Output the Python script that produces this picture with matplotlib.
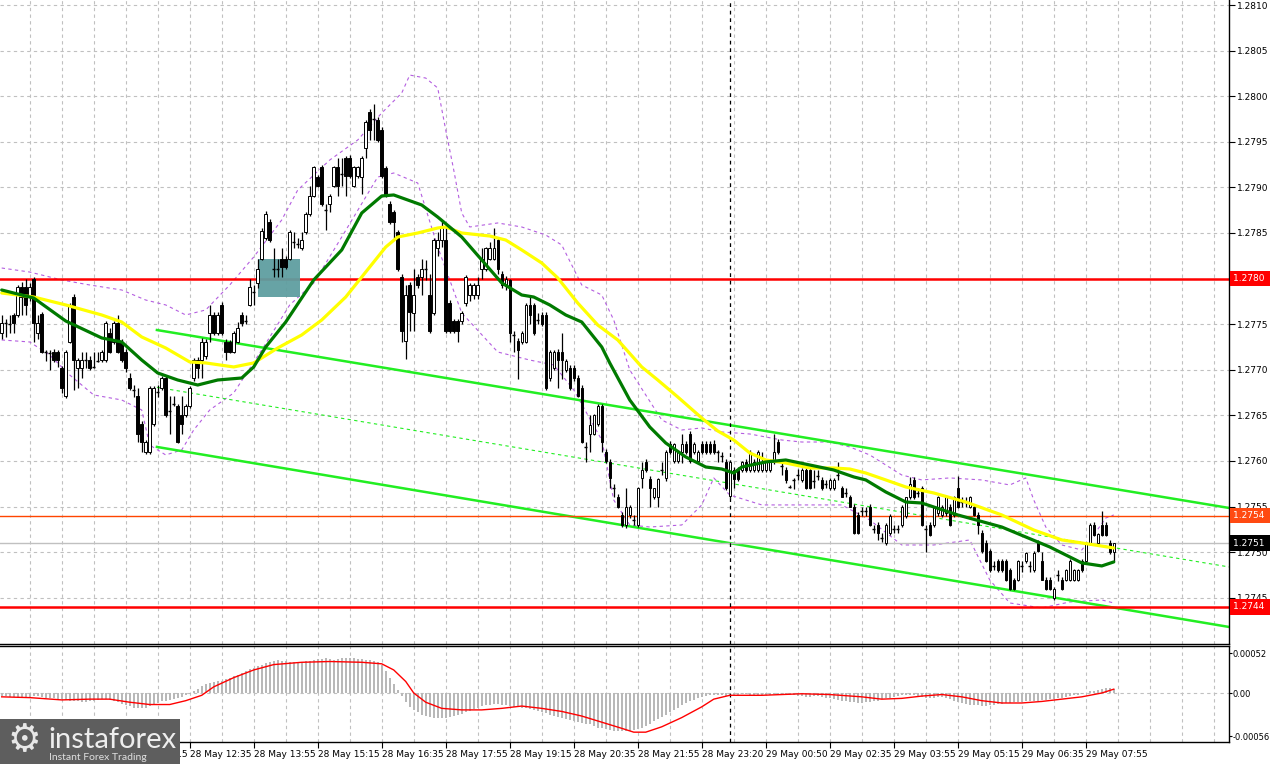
import matplotlib
matplotlib.use("Agg")
import matplotlib.pyplot as plt
from matplotlib.patches import Rectangle

# ---- data (prices in pips above 1.2700, M5 bars) ----
BASE = 1.2700
PIP = 0.0001

opens = [74.0, 75.1, 75.0, 76.0, 76.0, 79.1, 79.1, 78.0, 80.0, 74.0,
         76.1, 72.0, 71.8, 72.0, 72.0, 70.2, 67.1, 73.1, 78.0, 70.2,
         70.2, 71.1, 71.1, 70.3, 71.0, 71.1, 71.1, 74.0, 73.1, 75.1,
         73.1, 72.0, 69.1, 67.8, 67.1, 64.1, 61.0, 61.0, 64.1, 67.6,
         68.0, 69.1, 65.5, 66.2, 66.0, 65.0, 65.0, 66.0, 69.1, 71.1,
         71.1, 71.5, 74.0, 76.0, 74.0, 77.1, 73.1, 73.1, 72.0, 73.1,
         76.0, 75.4, 77.1, 78.5, 79.5, 82.2, 84.4, 86.2, 81.0, 81.0,
         82.2, 82.2, 82.2, 84.0, 83.8, 83.3, 85.1, 87.1, 89.1, 91.1,
         92.2, 87.5, 88.2, 90.2, 92.2, 91.5, 93.2, 93.2, 90.2, 91.3,
         91.1, 94.3, 98.3, 97.5, 97.4, 96.3, 92.1, 88.2, 87.3, 85.1,
         80.2, 73.2, 79.3, 76.2, 80.2, 80.2, 81.0, 78.2, 76.2, 83.3,
         84.2, 84.2, 77.3, 75.3, 75.3, 75.3, 77.3, 78.2, 78.2, 78.2,
         81.1, 81.1, 82.2, 82.2, 84.2, 80.5, 79.2, 79.8, 73.8, 73.2,
         73.1, 73.1, 77.1, 77.1, 75.5, 76.0, 76.0, 69.1, 70.2, 72.0,
         72.0, 70.0, 70.2, 70.2, 69.1, 68.0, 61.5, 63.0, 63.0, 64.1,
         66.0, 61.0, 59.9, 57.0, 56.1, 54.1, 53.0, 54.1, 53.5, 53.0,
         58.1, 59.9, 58.0, 56.1, 56.1, 59.0, 58.1, 61.9, 60.0, 60.0,
         61.0, 61.9, 63.0, 61.0, 60.0, 61.9, 61.9, 61.9, 61.9, 61.0,
         60.5, 59.9, 56.2, 59.0, 59.0, 59.0, 59.9, 59.0, 59.0, 59.0,
         59.0, 59.0, 59.0, 59.9, 62.1, 59.5, 59.0, 57.2, 57.9, 58.5,
         57.9, 59.0, 59.0, 57.8, 58.3, 57.9, 57.5, 57.0, 57.0, 58.5,
         57.0, 56.5, 56.0, 55.0, 54.1, 54.5, 54.5, 55.0, 52.5, 53.0,
         51.5, 51.0, 52.1, 52.5, 52.5, 53.0, 54.0, 56.0, 57.9, 56.5,
         57.0, 52.5, 53.0, 53.0, 54.3, 54.1, 54.3, 55.0, 54.1, 57.0,
         55.5, 55.5, 55.0, 55.0, 54.1, 52.1, 51.0, 50.1, 48.5, 49.0,
         49.0, 49.0, 48.0, 46.9, 47.0, 48.5, 49.0, 48.5, 48.0, 51.0,
         49.0, 47.0, 47.0, 45.0, 47.5, 47.0, 47.0, 47.0, 47.0, 47.0,
         49.0, 49.0, 51.0, 53.0, 51.0, 53.0, 53.0, 51.0, 50.0]
highs = [76.0, 75.6, 76.0, 76.2, 79.3, 79.6, 80.0, 79.5, 80.2, 76.0,
         76.3, 72.2, 72.2, 72.3, 72.2, 70.4, 72.2, 77.3, 78.3, 71.3,
         72.0, 72.0, 71.5, 72.0, 72.0, 72.2, 75.3, 74.6, 75.3, 76.0,
         73.4, 72.3, 69.6, 68.3, 68.0, 64.4, 62.3, 68.2, 68.2, 68.3,
         69.3, 69.4, 67.1, 67.1, 66.3, 67.1, 66.2, 68.2, 71.3, 71.4,
         73.5, 73.4, 77.1, 76.3, 76.3, 77.4, 73.4, 73.3, 74.2, 75.2,
         76.3, 76.0, 80.0, 79.3, 82.2, 85.5, 87.4, 86.5, 83.3, 82.2,
         83.3, 82.5, 85.3, 85.1, 84.4, 85.1, 87.3, 90.2, 92.4, 91.4,
         92.5, 88.2, 89.3, 92.4, 93.2, 93.2, 93.4, 93.5, 92.4, 92.4,
         93.4, 97.4, 98.6, 99.2, 97.7, 96.6, 92.4, 88.5, 87.5, 85.3,
         80.5, 79.3, 79.6, 81.1, 80.5, 82.2, 82.0, 80.5, 84.4, 85.1,
         86.3, 85.8, 77.6, 75.6, 75.6, 76.4, 80.4, 79.5, 79.5, 80.2,
         83.3, 83.5, 84.0, 85.5, 84.6, 80.8, 80.3, 80.0, 74.2, 73.5,
         74.2, 77.3, 78.0, 77.3, 76.2, 76.3, 76.3, 72.2, 72.2, 72.3,
         74.0, 71.2, 70.5, 70.5, 69.4, 68.3, 62.1, 65.0, 65.2, 66.2,
         66.3, 61.3, 60.2, 57.5, 56.4, 54.4, 57.0, 55.2, 54.1, 57.2,
         59.9, 60.2, 58.3, 57.0, 58.1, 59.9, 61.2, 62.2, 62.0, 61.2,
         63.0, 62.2, 63.3, 62.1, 61.2, 62.2, 62.2, 62.2, 62.3, 61.2,
         61.0, 60.2, 60.1, 59.3, 59.3, 60.0, 60.2, 61.2, 60.2, 61.2,
         61.0, 60.2, 60.2, 63.0, 62.4, 60.0, 59.3, 57.4, 58.1, 59.1,
         59.2, 59.3, 59.3, 59.0, 59.0, 58.2, 57.9, 58.1, 58.1, 59.9,
         57.3, 57.0, 56.3, 55.3, 54.4, 55.0, 55.0, 55.3, 53.0, 53.3,
         52.1, 53.2, 54.2, 53.0, 53.0, 55.2, 56.1, 58.2, 58.2, 57.0,
         57.3, 53.0, 53.3, 55.1, 56.2, 55.2, 56.2, 55.3, 56.2, 58.3,
         56.1, 56.1, 56.2, 55.3, 54.4, 52.4, 51.3, 50.4, 49.0, 49.3,
         49.3, 49.3, 48.3, 47.2, 49.1, 49.0, 50.0, 49.0, 50.1, 51.3,
         50.0, 47.3, 47.3, 46.2, 48.0, 47.3, 48.2, 49.2, 48.2, 48.2,
         49.3, 51.1, 53.2, 53.3, 52.1, 54.5, 53.3, 51.3, 51.0]
lows = [73.4, 73.6, 74.0, 74.0, 75.8, 76.0, 76.0, 77.5, 73.1, 73.4,
        71.8, 71.0, 70.0, 70.8, 70.3, 67.4, 66.9, 72.9, 67.8, 68.0,
        69.1, 70.2, 70.0, 70.2, 70.8, 70.8, 70.8, 71.8, 72.8, 71.8,
        70.8, 69.8, 67.8, 67.0, 62.1, 61.0, 60.8, 60.8, 63.8, 67.0,
        67.8, 64.8, 63.0, 66.0, 62.0, 63.0, 64.8, 65.8, 68.8, 69.1,
        69.1, 71.2, 73.1, 73.8, 73.8, 73.8, 71.1, 71.8, 71.8, 72.9,
        74.8, 75.0, 77.0, 77.1, 79.0, 82.0, 84.2, 84.0, 80.2, 80.2,
        80.2, 81.0, 82.0, 83.3, 83.3, 83.1, 84.9, 86.9, 88.9, 90.0,
        88.0, 85.3, 87.3, 90.0, 89.1, 90.2, 89.1, 91.0, 90.0, 91.0,
        89.3, 93.2, 95.2, 95.2, 95.0, 91.0, 88.9, 86.0, 84.4, 80.8,
        73.1, 71.2, 74.2, 74.2, 79.0, 78.2, 79.8, 74.0, 76.0, 82.5,
        83.5, 74.0, 74.0, 74.0, 73.1, 75.0, 77.0, 77.5, 77.8, 77.8,
        80.0, 80.8, 82.0, 82.0, 80.5, 79.0, 78.8, 73.0, 72.0, 69.0,
        72.8, 72.9, 75.0, 73.8, 75.0, 74.8, 67.8, 68.8, 70.0, 68.0,
        69.0, 69.8, 67.8, 68.8, 67.0, 62.0, 59.9, 61.0, 62.8, 63.8,
        61.0, 59.8, 57.0, 56.1, 54.8, 52.8, 52.6, 53.8, 53.0, 52.8,
        57.0, 58.8, 55.0, 55.8, 55.0, 58.5, 57.8, 60.8, 59.8, 59.8,
        59.8, 60.8, 59.8, 60.8, 59.8, 60.8, 60.8, 60.8, 60.8, 59.9,
        59.9, 56.8, 55.9, 57.0, 57.8, 58.8, 58.8, 58.8, 58.8, 58.8,
        58.8, 58.8, 58.8, 59.7, 60.8, 58.5, 57.6, 57.0, 56.9, 57.9,
        57.7, 56.9, 56.9, 57.0, 57.9, 56.8, 57.0, 56.8, 56.8, 57.9,
        56.0, 56.0, 55.0, 52.0, 52.0, 54.0, 54.0, 52.9, 52.1, 51.3,
        51.1, 50.8, 51.9, 52.1, 52.1, 52.8, 53.8, 55.8, 55.8, 56.0,
        52.9, 50.0, 51.8, 52.8, 54.0, 53.9, 54.0, 52.9, 53.9, 54.8,
        55.0, 55.0, 54.8, 54.0, 52.0, 49.9, 48.9, 47.8, 48.0, 47.8,
        47.8, 46.8, 45.8, 45.8, 46.8, 47.8, 48.8, 47.8, 47.8, 50.0,
        46.9, 45.8, 45.8, 44.8, 46.8, 45.8, 46.8, 46.8, 46.8, 46.8,
        47.8, 48.8, 50.8, 51.8, 50.8, 51.8, 51.8, 49.8, 49.0]
closes = [75.1, 75.0, 75.2, 75.1, 79.1, 78.0, 77.1, 79.1, 75.1, 75.1,
          72.0, 71.8, 71.9, 71.1, 71.1, 68.0, 72.0, 77.1, 71.1, 71.1,
          71.1, 71.2, 70.2, 70.4, 71.1, 72.0, 75.1, 72.0, 75.1, 72.0,
          71.1, 70.2, 68.0, 67.6, 63.0, 62.1, 62.1, 68.0, 68.0, 67.8,
          69.1, 65.0, 65.6, 66.3, 62.1, 64.1, 66.0, 68.0, 71.1, 70.2,
          73.1, 73.1, 76.0, 74.0, 76.0, 74.0, 72.0, 72.0, 74.0, 74.6,
          75.1, 75.5, 79.1, 78.6, 81.1, 85.2, 87.1, 84.2, 81.1, 81.2,
          81.3, 81.3, 85.1, 84.1, 83.9, 84.2, 87.1, 89.1, 92.2, 90.2,
          88.2, 87.6, 89.1, 92.2, 90.2, 91.6, 91.3, 91.3, 92.2, 92.2,
          93.2, 97.2, 96.3, 97.6, 95.2, 91.2, 89.1, 86.2, 86.2, 81.1,
          74.2, 78.2, 76.3, 78.2, 79.3, 81.1, 80.8, 74.2, 84.2, 84.2,
          85.5, 74.2, 74.2, 74.2, 74.2, 76.2, 80.2, 79.3, 79.3, 79.3,
          82.2, 83.3, 83.3, 83.3, 81.0, 79.3, 80.0, 74.0, 73.6, 72.2,
          74.0, 77.1, 76.0, 74.0, 75.6, 75.0, 68.0, 72.0, 72.0, 71.1,
          71.1, 71.0, 68.0, 69.1, 67.1, 62.1, 61.4, 64.0, 65.0, 66.0,
          62.1, 60.0, 58.1, 56.9, 55.0, 53.0, 55.0, 55.0, 53.6, 57.0,
          59.0, 59.0, 57.0, 57.0, 58.0, 59.1, 61.0, 61.0, 61.9, 61.0,
          61.9, 61.0, 60.0, 61.9, 61.0, 61.0, 61.0, 61.0, 61.0, 60.8,
          60.6, 57.0, 59.9, 58.0, 58.0, 59.9, 59.0, 61.0, 59.9, 61.0,
          59.9, 59.9, 59.9, 61.0, 61.0, 59.3, 57.9, 57.1, 57.8, 58.6,
          59.0, 57.0, 57.0, 57.9, 58.4, 57.0, 57.6, 57.9, 57.9, 58.6,
          56.1, 56.6, 55.0, 52.1, 52.1, 54.6, 54.4, 53.0, 52.6, 52.1,
          51.6, 53.0, 54.0, 52.6, 52.6, 55.0, 56.0, 57.5, 56.0, 56.6,
          53.0, 52.4, 51.9, 55.0, 56.1, 55.0, 56.1, 53.0, 56.1, 55.0,
          55.6, 55.4, 56.1, 54.1, 53.0, 50.1, 49.0, 48.0, 48.6, 48.0,
          48.0, 47.0, 46.0, 46.0, 49.0, 48.6, 49.9, 48.4, 49.9, 50.1,
          47.0, 46.0, 46.0, 46.0, 47.4, 46.0, 48.0, 49.0, 48.0, 48.0,
          48.0, 51.0, 53.0, 51.9, 52.0, 51.9, 51.9, 50.0, 51.0]

# moving averages (bar index, pips)
ma30_bars = [0, 8, 16, 25, 30, 35, 39, 44, 49, 54, 60, 63, 66, 71, 78, 85, 90, 95,
             98, 105, 109, 115, 120, 125, 130, 133, 137, 141, 145, 150, 152, 157,
             162, 166, 171, 176, 180, 183, 185, 191, 196, 202, 208, 213, 216, 221,
             226, 230, 239, 250, 262, 270, 275, 278]
ma30_vals = [78.75, 77.87, 75.35, 73.49, 73.05, 71.07, 69.65, 68.88, 68.33, 68.88,
             69.10, 70.31, 72.50, 75.24, 79.85, 83.14, 87.19, 89.06, 89.17, 88.07,
             86.75, 84.56, 82.04, 79.52, 78.20, 77.98, 77.11, 76.01, 75.24, 72.50,
             70.75, 66.69, 63.73, 61.97, 60.44, 59.34, 59.12, 58.68, 59.34, 59.89,
             60.11, 59.56, 59.01, 58.25, 57.92, 56.60, 55.50, 55.39, 54.08, 52.76,
             50.57, 48.82, 48.49, 48.93]
ma50_bars = [0, 8, 16, 25, 30, 35, 41, 47, 51, 58, 63, 69, 75, 80, 86, 92, 96, 99,
             104, 109, 111, 115, 122, 126, 130, 135, 139, 144, 149, 154, 160, 164,
             169, 175, 179, 183, 187, 191, 196, 202, 208, 212, 216, 221, 226, 233,
             241, 250, 258, 265, 270, 278]
ma50_vals = [78.42, 77.98, 77.11, 76.01, 75.24, 73.60, 72.39, 70.86, 70.75, 70.31,
             70.75, 72.39, 73.82, 75.46, 77.98, 81.27, 83.46, 84.56, 85.00, 85.55,
             85.66, 85.00, 84.67, 84.23, 83.14, 81.71, 80.07, 77.32, 74.91, 73.27,
             70.31, 68.88, 67.02, 64.71, 63.29, 62.30, 60.88, 60.11, 59.78, 59.23,
             59.23, 59.12, 58.68, 57.92, 57.15, 56.49, 55.50, 54.08, 52.43, 51.34,
             51.01, 50.46]

# bollinger bands (20)
bb_up_bars = [0, 7, 15, 22, 30, 36, 41, 46, 51, 57, 63, 70, 74, 82, 89, 95, 100, 102,
              106, 109, 111, 113, 115, 117, 124, 130, 136, 140, 145, 150, 153, 157,
              161, 165, 170, 175, 180, 187, 195, 200, 207, 212, 217, 225, 230, 237,
              245, 252, 256, 258, 261, 265, 270, 273, 276, 278]
bb_up_vals = [81.16, 80.72, 79.85, 79.30, 78.75, 77.65, 77.11, 76.01, 76.56, 79.30,
              82.37, 86.43, 89.71, 93.00, 95.20, 98.16, 100.35, 102.32, 101.99, 100.90,
              96.29, 91.91, 87.19, 85.66, 86.10, 85.66, 84.78, 83.68, 79.30, 78.20,
              75.46, 69.98, 67.24, 64.50, 63.40, 63.62, 63.18, 62.96, 62.30, 62.08,
              62.08, 61.54, 60.66, 58.46, 57.92, 58.14, 57.92, 57.37, 58.14, 55.72,
              52.76, 50.79, 50.24, 51.89, 53.75, 54.08]
bb_lo_bars = [0, 7, 12, 17, 23, 30, 35, 37, 41, 45, 48, 52, 58, 65, 72, 78, 85, 94,
              98, 104, 109, 115, 124, 132, 138, 143, 150, 153, 157, 162, 170, 175,
              178, 182, 190, 200, 210, 217, 225, 233, 242, 247, 252, 260, 267, 275, 278]
bb_lo_vals = [73.27, 73.05, 71.62, 69.43, 67.24, 66.69, 65.59, 61.75, 60.66, 61.21,
              63.40, 65.59, 67.46, 72.17, 77.11, 79.52, 84.56, 91.14, 91.58, 90.48,
              83.46, 76.23, 71.95, 71.07, 70.53, 67.79, 62.30, 55.72, 52.98, 52.76,
              52.98, 55.18, 58.14, 56.27, 55.18, 55.18, 55.18, 53.53, 50.79, 50.79,
              51.34, 46.95, 44.43, 43.88, 44.54, 44.76, 44.43]

# MACD main (histogram, 1e-5) for every bar, and its signal line
macd_hist = [-4, -4, -5, -5, -6, -6, -5, -5, -4, -4, -5, -6, -7, -7, -8, -8,
             -9, -10, -10, -11, -12, -12, -11, -10, -9, -8, -8, -9, -10, -12, -14, -15,
             -17, -19, -20, -20, -19, -17, -15, -13,
             -11, -10, -9, -8, -6, -5, -3, -1,
             2, 5, 9, 12, 13, 14, 15, 16,
             18, 20, 22, 24, 26, 28, 31, 33,
             35, 37, 39, 41, 42, 43, 42, 42,
             41, 41, 40, 41, 42, 42, 43, 44,
             44, 45, 44, 43, 44, 45, 46, 45,
             45, 44, 44, 43, 43, 42, 40, 36,
             28, 20, 12, 4, -4, -12, -18, -22,
             -25, -28, -30, -31, -32, -33, -33, -32,
             -31, -30, -29, -27, -25, -23, -21, -19,
             -17, -16, -15, -14, -14, -15, -16, -17,
             -18, -18, -19, -20, -21, -22, -24, -25,
             -26, -28, -30, -31, -33, -34, -35, -37,
             -38, -39, -40, -41, -43, -45, -46, -47,
             -48, -49, -50, -50, -50, -49, -48, -47,
             -45, -43, -40, -37, -34, -31, -28, -25,
             -22, -19, -16, -13, -11, -9, -7, -5,
             -4, -3, -2, -2, -3, -4, -4, -3,
             -2, -1, -1, -2, -2, -3, -3, -2,
             -2, -1, -1, -1, -2, -2, -3, -4,
             -4, -5, -5, -4, -4, -5, -6, -7,
             -8, -9, -10, -11, -12, -12, -13, -13,
             -12, -12, -11, -10, -8, -7, -6, -5,
             -4, -3, -2, -2, -3, -4, -5, -6,
             -7, -6, -5, -5, -6, -8, -10, -12,
             -13, -14, -15, -16, -16, -17, -17, -16,
             -15, -14, -14, -13, -13, -12, -12, -12,
             -11, -11, -10, -10, -9, -9, -8, -8,
             -7, -6, -5, -4, -3, -2, -1, 0,
             2, 3, 4, 5, 6, 6, 5]
signal_bars = [0, 7, 15, 22, 27, 32, 37, 42, 46, 50, 53, 58, 63, 68, 75, 82, 90, 95,
               98, 101, 103, 106, 110, 115, 120, 125, 130, 135, 140, 145, 150, 155,
               158, 161, 165, 170, 175, 178, 182, 190, 200, 207, 215, 220, 225, 230,
               235, 240, 245, 250, 255, 260, 265, 270, 275, 278]
signal_vals = [-5, -6, -9, -8, -8, -12, -15, -15, -10, -3, 8, 20, 30, 37, 40, 41, 40, 38,
               30, 15, 0, -12, -20, -22, -22, -20, -17, -20, -24, -30, -38, -46,
               -51, -51, -44, -32, -18, -8, -3, -3, -1, -2, -5, -8, -7, -4,
               -2, -5, -10, -13, -13, -11, -8, -5, 0, 5]

# levels and drawings
level_resist = 1.2780
level_support = 1.2744
level_high = 1.2754
level_bid = 1.2751
chan_bars = [38.8, 306.8]
chan_upper = [74.36, 54.85]
chan_mid = [68.08, 48.38]
chan_lower = [61.54, 41.80]
zone_bars = [64.1, 74.6]
zone_pips = [77.98, 82.15]
day_break_bar = 182

price_ticks = [1.2745, 1.2750, 1.2755, 1.2760, 1.2765, 1.2770, 1.2775,
               1.2780, 1.2785, 1.2790, 1.2795, 1.2800, 1.2805, 1.2810]
time_label_bars = [31, 47, 63, 79, 95, 111, 127, 143, 159, 175, 191, 207, 223, 239, 255, 271]
time_labels = ["28 May 11:15", "28 May 12:35", "28 May 13:55", "28 May 15:15",
               "28 May 16:35", "28 May 17:55", "28 May 19:15", "28 May 20:35",
               "28 May 21:55", "28 May 23:20", "29 May 00:50", "29 May 02:35",
               "29 May 03:55", "29 May 05:15", "29 May 06:35", "29 May 07:55"]


def px(v):
    return BASE + v * PIP


W, H = 1270, 764
fig = plt.figure(figsize=(W / 100, H / 100), dpi=100)
fig.patch.set_facecolor("white")
plt.rcParams["font.family"] = ["DejaVu Sans"]
LBL = 6.5

ax = fig.add_axes([0, (H - 644) / H, 1229 / W, 644 / H])
ax2 = fig.add_axes([0, (H - 742) / H, 1229 / W, 96 / H])

n = len(closes)
idx = list(range(n))
xlim = (-0.425, 306.8)

grid_kw = dict(color="#c0c0c0", lw=0.8, linestyle=(0, (3, 3)), zorder=0.5)
vgrid = list(range(7, 307, 8))

# ---- main panel ----
ax.set_xlim(*xlim)
ax.set_ylim(1.273993, 1.281055)
for b in vgrid:
    ax.axvline(b, **grid_kw)
for p in price_ticks:
    ax.axhline(p, **grid_kw)

# bollinger
ax.plot(bb_up_bars, [px(v) for v in bb_up_vals], color="#b45ee0", lw=0.8,
        linestyle=(0, (3, 3)), zorder=1)
ax.plot(bb_lo_bars, [px(v) for v in bb_lo_vals], color="#b45ee0", lw=0.8,
        linestyle=(0, (3, 3)), zorder=1)

# channel
ax.plot(chan_bars, [px(v) for v in chan_upper], color="#22ee22", lw=1.8, zorder=1.2)
ax.plot(chan_bars, [px(v) for v in chan_lower], color="#22ee22", lw=1.8, zorder=1.2)
ax.plot(chan_bars, [px(v) for v in chan_mid], color="#22ee22", lw=0.8,
        linestyle=(0, (3, 3)), zorder=1.2)

# horizontal levels
ax.axhline(level_high, color="#ff4500", lw=1.0, zorder=1.3)
ax.axhline(level_bid, color="#c0c0c0", lw=1.0, zorder=1.3)
ax.axhline(level_resist, color="#ff0000", lw=1.8, zorder=1.3)
ax.axhline(level_support, color="#ff0000", lw=1.8, zorder=1.3)

# zone rectangle
ax.add_patch(Rectangle((zone_bars[0], px(zone_pips[0])), zone_bars[1] - zone_bars[0],
                       (zone_pips[1] - zone_pips[0]) * PIP, facecolor="#5f9ea0",
                       edgecolor="none", alpha=0.95, zorder=1.4))

# session separator
ax.axvline(day_break_bar, color="black", lw=0.9, linestyle=(0, (3, 3)), zorder=1.5)
ax2.axvline(day_break_bar, color="black", lw=0.9, linestyle=(0, (3, 3)), zorder=1.5)

# candles
ax.vlines(idx, [px(v) for v in lows], [px(v) for v in highs], color="black", lw=0.9, zorder=2)
for i in idx:
    o, c = opens[i], closes[i]
    if abs(c - o) < 0.25:
        ax.hlines(px(o), i - 0.4, i + 0.4, color="black", lw=1.0, zorder=2.1)
        continue
    bull = c > o
    ax.bar(i, (c - o) * PIP, bottom=px(o), width=0.62,
           facecolor="white" if bull else "black", edgecolor="black",
           linewidth=0.7, zorder=2.1)

# moving averages
ax.plot(ma50_bars, [px(v) for v in ma50_vals], color="#ffff00", lw=2.3,
        solid_capstyle="round", zorder=3)
ax.plot(ma30_bars, [px(v) for v in ma30_vals], color="#007a00", lw=2.3,
        solid_capstyle="round", zorder=3.1)

# axis styling
for s in ["top", "left"]:
    ax.spines[s].set_visible(False)
ax.spines["right"].set_linewidth(1.0)
ax.spines["bottom"].set_linewidth(1.0)
ax.set_xticks([])
ax.yaxis.tick_right()
ax.set_yticks(price_ticks)
ax.set_yticklabels(["" if abs(p - level_resist) < 1e-6 else f"{p:.4f}" for p in price_ticks])
ax.tick_params(axis="y", length=4, width=0.8, pad=2, labelsize=LBL, colors="black")

tag_kw = dict(transform=ax.get_yaxis_transform(), ha="left", va="center",
              fontsize=LBL, color="white", zorder=5, clip_on=False)
for lvl, col in [(level_resist, "#ff0000"), (level_high, "#ff4a12"),
                 (level_bid, "#000000"), (level_support, "#ff0000")]:
    ax.text(1.0035, lvl, f"{lvl:.4f} ", bbox=dict(boxstyle="square,pad=0.35",
            facecolor=col, edgecolor="none"), **tag_kw)

# ---- MACD panel ----
ax2.set_xlim(*xlim)
ax2.set_ylim(-63.8e-5, 61.2e-5)
for b in vgrid:
    ax2.axvline(b, **grid_kw)
ax2.axhline(0, **grid_kw)
ax2.bar(idx, [h * 1e-5 for h in macd_hist], width=0.6, color="#b8b8b8", zorder=1)
ax2.plot(signal_bars, [s * 1e-5 for s in signal_vals], color="#ff0000", lw=1.0, zorder=2)

ax2.spines["left"].set_visible(False)
for s in ["top", "right", "bottom"]:
    ax2.spines[s].set_linewidth(1.0)
ax2.yaxis.tick_right()
ax2.set_yticks([52e-5, 0, -56e-5])
ax2.set_yticklabels(["0.00052", "0.00", "-0.00056"])
ax2.tick_params(axis="y", length=2, width=0.8, pad=0.5, labelsize=6.0)
ax2.set_xticks(time_label_bars)
ax2.set_xticklabels(time_labels, ha="left")
ax2.tick_params(axis="x", length=4, width=0.8, pad=1.5, labelsize=LBL)

# ---- logo ----
fig.patches.append(Rectangle((0, 0), 180 / W, 45 / H, transform=fig.transFigure,
                             facecolor="#5e5e5e", edgecolor="none", zorder=10))
fig.text(24 / W, (H - 741) / H, "\u2699", fontsize=27, color="#e8e8e8",
         ha="center", va="center", family="DejaVu Sans", zorder=11)
fig.text(48 / W, (H - 748) / H, "instaforex", fontsize=21, color="#eeeeee",
         ha="left", va="baseline", family="Lato", zorder=11)
fig.text(49 / W, (H - 760) / H, "Instant Forex Trading", fontsize=7.5, color="#e0e0e0",
         ha="left", va="baseline", family="Lato", zorder=11)

fig.savefig("out.png", dpi=100)
